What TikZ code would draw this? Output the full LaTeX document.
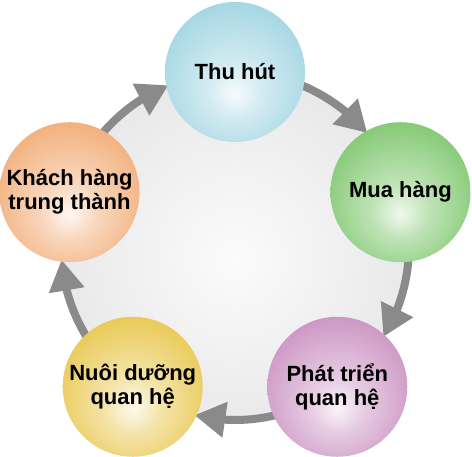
\documentclass[tikz,border=0pt]{standalone}
\usepackage{tikz}
\usetikzlibrary{arrows.meta,bending}
\usepackage{fontspec}
\setmainfont{Liberation Sans}
\definecolor{diskin}{HTML}{FBFBFB}
\definecolor{diskmid}{HTML}{EEEEEF}
\definecolor{diskout}{HTML}{D4D5D9}
\definecolor{ringgray}{HTML}{8A8A8A}
\definecolor{cThu}{HTML}{8ECCDC}
\definecolor{cMua}{HTML}{66BC52}
\definecolor{cKhach}{HTML}{EF9C5C}
\definecolor{cNuoi}{HTML}{E4BC2C}
\definecolor{cPhat}{HTML}{C07CB6}
\pgfdeclareradialshading{diskshade}{\pgfpoint{0bp}{-2bp}}{color(0bp)=(diskin); color(18bp)=(diskmid); color(52bp)=(diskout)}
\pgfdeclareradialshading{shThu}{\pgfpoint{0bp}{-8bp}}{color(0bp)=(cThu!8!white); color(10bp)=(cThu!40!white); color(30bp)=(cThu!82!white); color(54bp)=(cThu)}
\pgfdeclareradialshading{shMua}{\pgfpoint{0bp}{-8bp}}{color(0bp)=(cMua!10!white); color(10bp)=(cMua!42!white); color(30bp)=(cMua!82!white); color(54bp)=(cMua)}
\pgfdeclareradialshading{shKhach}{\pgfpoint{0bp}{-8bp}}{color(0bp)=(cKhach!8!white); color(10bp)=(cKhach!40!white); color(30bp)=(cKhach!82!white); color(54bp)=(cKhach)}
\pgfdeclareradialshading{shNuoi}{\pgfpoint{0bp}{-8bp}}{color(0bp)=(cNuoi!8!white); color(10bp)=(cNuoi!40!white); color(30bp)=(cNuoi!82!white); color(54bp)=(cNuoi)}
\pgfdeclareradialshading{shPhat}{\pgfpoint{0bp}{-8bp}}{color(0bp)=(cPhat!8!white); color(10bp)=(cPhat!40!white); color(30bp)=(cPhat!82!white); color(54bp)=(cPhat)}
\begin{document}
\begin{tikzpicture}[x=1pt,y=1pt,
  stage/.style={circle, minimum size=140pt, inner sep=0pt, align=center,
    font=\fontsize{22}{24}\selectfont\bfseries, text=black},
  ring/.style={draw=ringgray, line width=8pt,
    -{Triangle[width=34pt,length=31pt,fill=ringgray]}}]
\useasboundingbox (0,0) rectangle (472,457);
\coordinate (O) at (235,211);
\shade[shading=diskshade] (O) circle[radius=174pt];
% arc start/end points
\coordinate (a1) at ([shift={(75:174pt)}]O);
\coordinate (a2) at ([shift={(3:174pt)}]O);
\coordinate (a3) at ([shift={(-69:174pt)}]O);
\coordinate (a4) at ([shift={(-141:174pt)}]O);
\coordinate (a5) at ([shift={(147:174pt)}]O);
\draw[ring] (a1) arc[start angle=75, end angle=40.5, radius=174pt];
\draw[ring] (a2) arc[start angle=3, end angle=-31.5, radius=174pt];
\draw[ring] (a3) arc[start angle=-69, end angle=-103.5, radius=174pt];
\draw[ring] (a4) arc[start angle=-141, end angle=-175.5, radius=174pt];
\draw[ring] (a5) arc[start angle=147, end angle=112.5, radius=174pt];
% stages
\node[stage, shade, shading=shThu]   (thu)   at ([shift={(90:174pt)}]O)  {Thu hút};
\node[stage, shade, shading=shMua]   (mua)   at ([shift={(18:174pt)}]O)  {Mua hàng};
\node[stage, shade, shading=shPhat]  (phat)  at ([shift={(-54:174pt)}]O) {Phát triển\\quan hệ};
\node[stage, shade, shading=shNuoi]  (nuoi)  at ([shift={(-126:174pt)}]O) {Nuôi dưỡng\\quan hệ};
\node[stage, shade, shading=shKhach] (khach) at ([shift={(162:174pt)}]O) {Khách hàng\\trung thành};
\end{tikzpicture}
\end{document}
